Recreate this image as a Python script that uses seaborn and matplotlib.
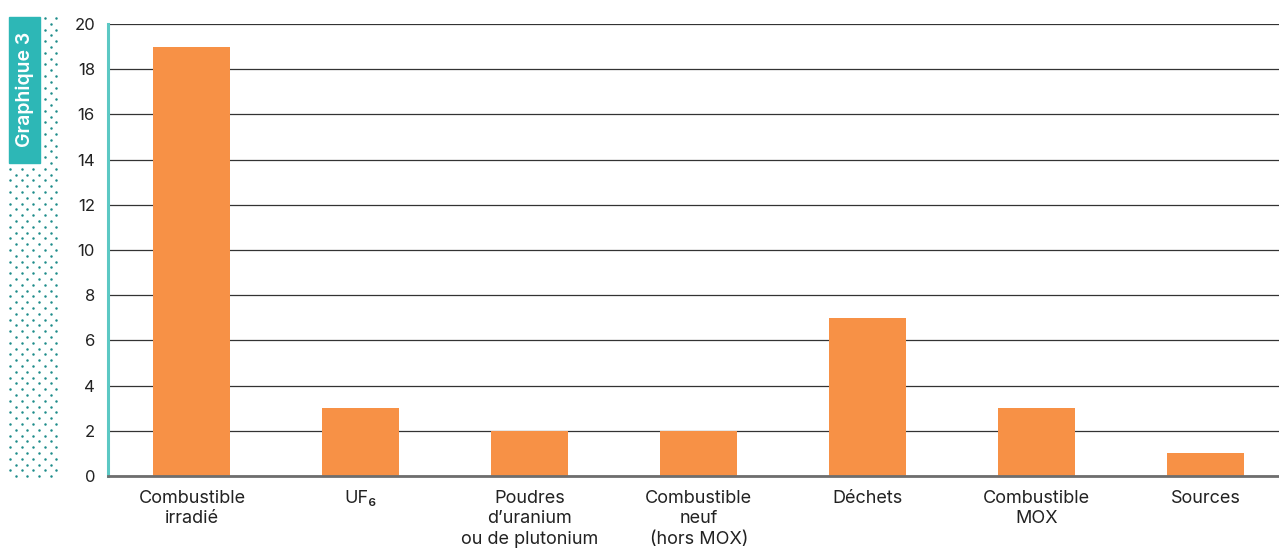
import matplotlib
matplotlib.use("Agg")
import matplotlib.pyplot as plt
import seaborn as sns
import numpy as np
import pandas as pd

categories = ["Combustible\nirradié", "UF₆", "Poudres\nd’uranium\nou de plutonium",
              "Combustible\nneuf\n(hors MOX)", "Déchets", "Combustible\nMOX", "Sources"]
values = [19, 3, 2, 2, 7, 3, 1]
yticks = [0, 2, 4, 6, 8, 10, 12, 14, 16, 18, 20]

ORANGE = "#F79146"
TEAL = "#2DB7B6"
TEAL_DOT = "#1E8C8A"

sns.set_theme(style="white")
plt.rcParams['font.family'] = ['Inter', 'DejaVu Sans']

fig = plt.figure(figsize=(12.79, 5.48), dpi=100)
ax = fig.add_axes([107.5/1279, 1-476/548, (1290-107.5)/1279, (476-24)/548])

df = pd.DataFrame({"cat": categories, "val": values})
sns.barplot(data=df, x="cat", y="val", color=ORANGE, saturation=1, width=0.456,
            linewidth=0, ax=ax, zorder=3)

ax.set_xlim(-0.5, 6.5)
ax.set_ylim(0, 20)
ax.set_yticks(yticks)
ax.set_yticklabels([str(t) for t in yticks], fontsize=12, color="#222222")
ax.set_xlabel("")
ax.set_ylabel("")
for lab in ax.get_xticklabels():
    lab.set_fontsize(13)
    lab.set_color("#222222")
    lab.set_linespacing(1.26)
ax.tick_params(axis="x", length=0, pad=10)
ax.tick_params(axis="y", length=0, pad=9)
ax.grid(axis="y", color="#333333", linewidth=0.9, zorder=0)
ax.set_axisbelow(True)
for s in ["top", "right"]:
    ax.spines[s].set_visible(False)
ax.spines["left"].set_color("#5CC8C4")
ax.spines["left"].set_linewidth(2.2)
ax.spines["bottom"].set_color("#6E6E6E")
ax.spines["bottom"].set_linewidth(2)
ax.spines["bottom"].set_zorder(4)

# decorative side tag with dotted pattern
deco = fig.add_axes([0, 0, 1, 1], zorder=-1)
deco.set_xlim(0, 1279)
deco.set_ylim(548, 0)
deco.axis("off")
xs, ys = [], []
row = 0
y = 18.0
while y <= 478:
    x0 = 10.0 if row % 2 == 0 else 15.8
    x = x0
    while x <= 57:
        if not (y < 164 and x < 41):
            xs.append(x)
            ys.append(y)
        x += 11.6
    y += 5.8
    row += 1
deco.scatter(xs, ys, s=3.2, color=TEAL_DOT, linewidths=0)
deco.add_patch(plt.Rectangle((9, 17), 31, 146, color=TEAL, zorder=2))
deco.text(24.5, 89, "Graphique 3", rotation=90, color="white", fontsize=14,
          fontweight="semibold", ha="center", va="center", zorder=3)

fig.savefig("out.png", dpi=100)
